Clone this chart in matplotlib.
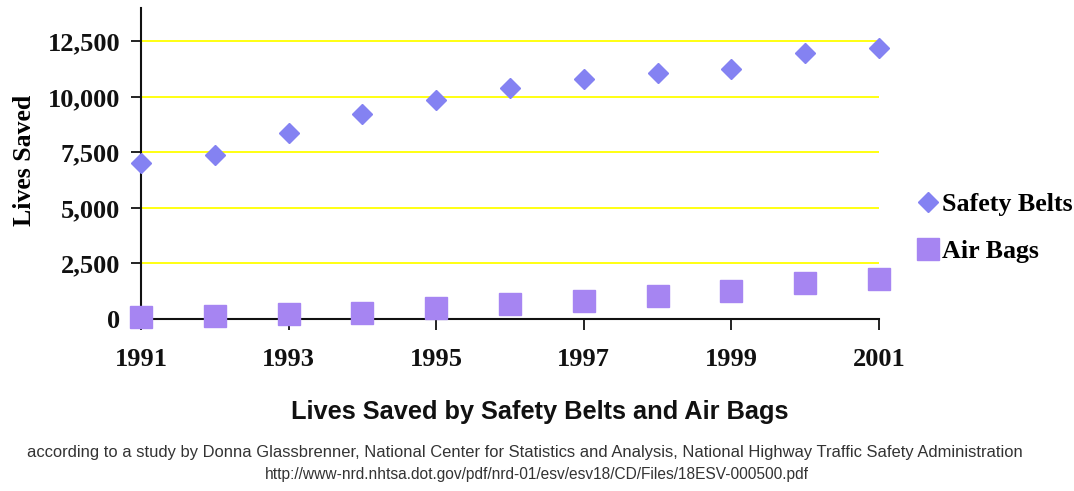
import matplotlib
matplotlib.use("Agg")
import matplotlib.pyplot as plt
from matplotlib.ticker import FuncFormatter

# Data
years = list(range(1991, 2002))
safety_belts = [7040, 7400, 8390, 9250, 9840, 10420, 10790, 11060, 11240, 11960, 12190]
air_bags = [70, 140, 210, 285, 510, 690, 830, 1040, 1265, 1610, 1820]
year_ticks = [1991, 1993, 1995, 1997, 1999, 2001]
y_ticks = [0, 2500, 5000, 7500, 10000, 12500]

title = "Lives Saved by Safety Belts and Air Bags"
source_1 = ("according to a study by Donna Glassbrenner, National Center for Statistics "
            "and Analysis, National Highway Traffic Safety Administration")
source_2 = "http://www-nrd.nhtsa.dot.gov/pdf/nrd-01/esv/esv18/CD/Files/18ESV-000500.pdf"

serif = ["Liberation Serif", "DejaVu Serif"]
sans = ["Liberation Sans", "DejaVu Sans"]

fig = plt.figure(figsize=(10.74, 4.91), dpi=100)
ax = fig.add_axes([141 / 1074, 1 - 319 / 491, (879 - 141) / 1074, (319 - 8) / 491])

ax.set_axisbelow(True)
for v in y_ticks[1:]:
    ax.axhline(v, color="#FFFF00", lw=1.3, zorder=0)

ax.plot(years, safety_belts, ls="none", marker="D", ms=10.5, color="#8482F2",
        mec="#8482F2", clip_on=False, zorder=3, label="Safety Belts")
ax.plot(years, air_bags, ls="none", marker="s", ms=15.5, color="#A685F2",
        mec="#A685F2", clip_on=False, zorder=3, label="Air Bags")

ax.set_xlim(1991, 2001)
ax.set_ylim(0, 14000)
ax.set_xticks(year_ticks)
ax.set_yticks(y_ticks)
ax.yaxis.set_major_formatter(FuncFormatter(lambda v, p: f"{int(v):,}"))

for s in ["top", "right"]:
    ax.spines[s].set_visible(False)
for s in ["left", "bottom"]:
    ax.spines[s].set_linewidth(1.5)
    ax.spines[s].set_color("#111111")

ax.tick_params(axis="x", direction="out", length=8, width=1.3, pad=13, colors="#111111")
ax.tick_params(axis="y", direction="out", length=7, width=1.3, pad=8, colors="#111111")
for lab in ax.get_xticklabels() + ax.get_yticklabels():
    lab.set_fontfamily(serif)
    lab.set_fontweight("bold")
    lab.set_fontsize(19)

ax.set_ylabel("Lives Saved", fontfamily=serif, fontweight="bold", fontsize=18.5, labelpad=0)
ax.yaxis.set_label_coords(-0.142, 0.51, transform=ax.transAxes)

leg = ax.legend(loc="upper left", bbox_to_anchor=(919 / 1074, 1 - 193 / 491),
                bbox_transform=fig.transFigure, frameon=False,
                prop={"family": serif, "weight": "bold", "size": 18.7},
                handlelength=0.7, handletextpad=0.2, labelspacing=0.9,
                borderaxespad=0, borderpad=0)
leg.legend_handles[0].set_markersize(10.5)
leg.legend_handles[1].set_markersize(15.5)

fig.text(540 / 1074, 1 - 412 / 491, title, ha="center", va="center",
         fontfamily=sans, fontweight="bold", fontsize=18.3, color="#111111")
fig.text(525 / 1074, 1 - 452 / 491, source_1, ha="center", va="center",
         fontfamily=sans, fontsize=11.9, color="#333333")
fig.text(537 / 1074, 1 - 475 / 491, source_2, ha="center", va="center",
         fontfamily=sans, fontsize=11.2, color="#333333")

fig.savefig("out.png", dpi=100)
